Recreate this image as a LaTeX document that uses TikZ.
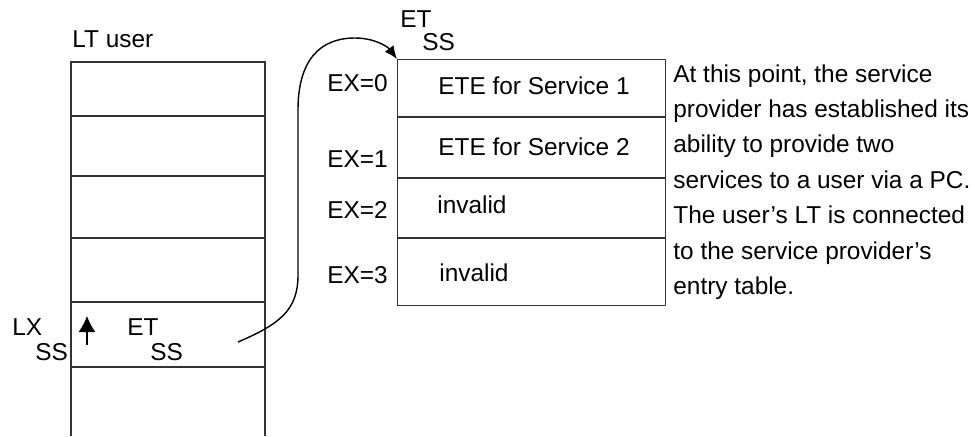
\documentclass[tikz,border=0pt]{standalone}
\usepackage{fontspec}
\setmainfont{Liberation Sans}
\usetikzlibrary{positioning}
\usetikzlibrary{calc}
\usetikzlibrary{arrows.meta}

\begin{document}
\begin{tikzpicture}
			[
				x = 0.5pt, y = -0.5pt,
				font = \fontsize{12.2}{17.7}\selectfont,
				mytable/.style = {draw, line width = 0.7pt, black!80},
				mylabel/.style = {anchor = west, inner sep = 0pt},
				myarrow/.style = {-{Latex[length = 6.5pt, width = 5.5pt]}, line width = 0.7pt},
				mysmallarrow/.style = {-{Latex[length = 8pt, width = 8.5pt]}, line width = 0.7pt}
			]
			\useasboundingbox (0,0) rectangle (975,436);
			%
			% linkage table of the user
			\node (lttitle) [mylabel] at (72,39) {LT user};
			\draw [mytable] (71,436) -- (71,62) -- (265,62) -- (265,436);
			\foreach \y in {116,176,238,302,367}
				\draw [mytable] (71,\y) -- (265,\y);
			%
			\node (lxtop) [mylabel] at (12,327) {LX};
			\node (lxbottom) [mylabel] at (35,352) {SS};
			\node (ettop) [mylabel] at (127,327) {ET};
			\node (etbottom) [mylabel] at (150,352) {SS};
			\coordinate (lxfoot) at (87,345);
			\coordinate (lxhead) at (87,316);
			\draw [mysmallarrow] (lxfoot) -- (lxhead);
			%
			% entry table of the service provider
			\node (entrytable) [mytable, anchor = north west, minimum width = 134pt, minimum height = 123pt, inner sep = 0pt] at (397,59) {};
			\foreach \y in {117,178,238}
				\draw [mytable] (397,\y) -- (665,\y);
			%
			\node (entrytop) [mylabel] at (400,19) {ET};
			\node (entrybottom) [mylabel] at (422,42) {SS};
			%
			\node (exzero) [mylabel] at (327,83) {EX=0};
			\node (exone) [mylabel] at (327,159) {EX=1};
			\node (extwo) [mylabel] at (327,210) {EX=2};
			\node (exthree) [mylabel] at (327,275) {EX=3};
			%
			\node (eteone) [mylabel] at (438,86) {ETE for Service 1};
			\node (etetwo) [mylabel] at (438,147) {ETE for Service 2};
			\node (invalidtwo) [mylabel] at (437,205) {invalid};
			\node (invalidthree) [mylabel] at (439,273) {invalid};
			%
			% connection from the LT entry to the entry table
			\coordinate (ltentry) at (238,342);
			\draw [myarrow] (ltentry) .. controls (280,324) and (298,310) .. (298,275) -- (298,110) .. controls (298,60) and (320,38) .. (355,38) .. controls (375,38) and (388,47) .. (entrytable.north west);
			%
			% explanation
			\node (remark) [anchor = north west, inner sep = 0pt, align = left] at (673,64) {At this point, the service\\provider has established its\\ability to provide two\\services to a user via a PC.\\The user's LT is connected\\to the service provider's\\entry table.};
			%
		\end{tikzpicture}
\end{document}
